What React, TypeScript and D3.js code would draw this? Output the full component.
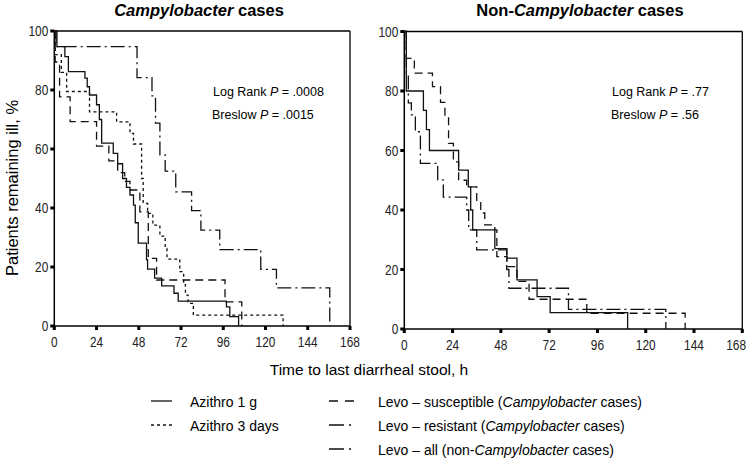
import React from "react";
import * as d3 from "d3";

// ---------- data (hours, % remaining ill); each point = level from that hour on ----------
const xTicks = [0, 24, 48, 72, 96, 120, 144, 168];
const yTicks = [0, 20, 40, 60, 80, 100];

// Campylobacter cases
const campyAzithro1g: [number, number][] = [
  [0, 100], [1.5, 94.7], [6, 91.3], [8, 86.2], [17.4, 84], [18.7, 81.1], [20, 78.3], [24, 75],
  [25.6, 70], [26.9, 62], [33.5, 58.5], [36, 55], [38.8, 50], [41, 47], [43, 44.4], [45, 41],
  [46, 35], [47.7, 28.1], [52.4, 22.4], [53, 19.3], [57, 16.2], [61, 13.6], [68, 11.1],
  [70.4, 8.4], [97.8, 6.5], [99.7, 3.2], [104.7, 0],
];
const campyAzithro3d: [number, number][] = [
  [0, 100], [0.5, 92], [4, 86], [7, 79.5], [20, 72.6], [35.4, 69.2], [43, 65.3], [45, 61.7],
  [49.6, 50], [50.5, 41.6], [53, 38.2], [56, 34.2], [60, 30.5], [63, 26.3], [64, 22.7],
  [71.3, 18.4], [73.5, 14], [74.5, 10.5], [76, 7.7], [79, 3.7], [130, 0],
];
const campyLevoSusceptible: [number, number][] = [
  [0, 100], [0.5, 89.5], [3, 77.7], [9, 69.3], [24, 61], [31, 56], [36, 52], [40, 49],
  [43, 46.1], [48.6, 38.7], [53.4, 22.9], [58.1, 15.6], [97, 8.2], [106.5, 0],
];
const campyLevoResistant: [number, number][] = [
  [0, 100], [1, 94.7], [47, 84.2], [55.5, 78], [57.5, 68.8], [60, 58], [63, 52.5], [69, 45.5],
  [78, 39.1], [83.3, 32.5], [94, 25.9], [117.3, 19.2], [126.2, 12.9], [156.5, 0],
];

// Non-Campylobacter cases
const nonAzithro1g: [number, number][] = [
  [0, 100], [1, 80], [9.5, 73.5], [11, 67], [12.5, 60], [27, 53.4], [31.8, 47.8], [33, 40],
  [34, 33.3], [45, 27], [51, 23.8], [56, 16.5], [66, 10.9], [72.5, 5.5], [111, 0],
];
const nonAzithro3d: [number, number][] = [
  [0, 100], [1, 91], [5, 86], [14, 81.5], [18, 76.2], [20.2, 71.9], [22, 62.4], [24.4, 56.2],
  [27, 50], [31, 47.8], [36, 42.5], [38, 39], [40, 35], [45, 33.3], [46, 24.3], [51, 21],
  [56, 16], [62, 10], [90.7, 5.3], [139.6, 0],
];
const nonLevoAll: [number, number][] = [
  [0, 100], [1, 86], [2, 76], [3.5, 72], [5.5, 66.3], [8, 55.7], [16.6, 50.1], [19.4, 44.3],
  [31, 40], [32, 33.3], [36, 26.6], [50.9, 20], [52, 13.7], [81.6, 6.6], [130, 0],
];

const DASH_SOLID = "";
const DASH_SHORT = "3,3";
const DASH_LONG = "8,5";
const DASH_DOT = "14,4,2,4";

const FONT = "'Liberation Sans', Arial, sans-serif";
const DIGIT_W = 6.6;

type Series = { data: [number, number][]; dash: string };

function Panel({ x0, x1, y0, y1, series, title, titleX, stat1, stat2, statX }: {
  x0: number; x1: number; y0: number; y1: number; series: Series[];
  title: React.ReactNode; titleX: number; stat1: string; stat2: string; statX: number;
}) {
  const x = d3.scaleLinear().domain([0, 168]).range([x0, x1]);
  const y = d3.scaleLinear().domain([0, 100]).range([y0, y1]);
  const line = d3.line<[number, number]>().x((d) => x(d[0])).y((d) => y(d[1])).curve(d3.curveStepAfter);
  return (
    <g>
      <text x={titleX} y={16} textAnchor="middle" fontFamily={FONT} fontSize={16.5} fontWeight="bold">{title}</text>
      {/* frame */}
      <line x1={x0} x2={x1} y1={y1} y2={y1} stroke="#000" strokeWidth={1.3} />
      <line x1={x1} x2={x1} y1={y1} y2={y0} stroke="#000" strokeWidth={1.3} />
      <line x1={x0} x2={x0} y1={y1} y2={y0} stroke="#000" strokeWidth={1.5} />
      <line x1={x0} x2={x1} y1={y0} y2={y0} stroke="#000" strokeWidth={1.5} />
      {yTicks.map((t) => {
        const s = String(t);
        return (
          <g key={"y" + t}>
            <rect x={x0 - 4} y={y(t) - 1.5} width={4} height={3} fill="#000" />
            <text x={x0 - 6} y={y(t) + 5} textAnchor="end" fontFamily={FONT} fontSize={14} fill="#222"
              textLength={s.length * DIGIT_W} lengthAdjust="spacingAndGlyphs">{s}</text>
          </g>
        );
      })}
      {xTicks.map((t) => {
        const s = String(t);
        const w = s.length * DIGIT_W;
        const cx = Math.min(x(t), 746 - w / 2);
        return (
          <g key={"x" + t}>
            <rect x={x(t) - 1.5} y={y0} width={3} height={4} fill="#000" />
            <text x={cx - w / 2} y={y0 + 21} fontFamily={FONT} fontSize={14} fill="#222"
              textLength={w} lengthAdjust="spacingAndGlyphs">{s}</text>
          </g>
        );
      })}
      {series.map((s, i) => (
        <path key={i} d={line(s.data) || ""} fill="none" stroke="#111" strokeWidth={1.3}
          strokeDasharray={s.dash || undefined} />
      ))}
      <text x={statX} y={96} fontFamily={FONT} fontSize={12.5}>
        {stat1.split("P")[0]}<tspan fontStyle="italic">P</tspan>{stat1.split("P")[1]}
      </text>
      <text x={statX - 1} y={119} fontFamily={FONT} fontSize={12.5}>
        {stat2.split("P")[0]}<tspan fontStyle="italic">P</tspan>{stat2.split("P")[1]}
      </text>
    </g>
  );
}

function LegendLine({ x1, x2, y, dash }: { x1: number; x2: number; y: number; dash: string }) {
  return <line x1={x1} x2={x2} y1={y} y2={y} stroke="#111" strokeWidth={1.3} strokeDasharray={dash || undefined} />;
}

export default function App() {
  return (
    <svg width={750} height={461} style={{ display: "block", position: "absolute", left: 0, top: 0, background: "#fff" }}>
      <rect width={750} height={461} fill="#fff" />
      <Panel x0={54.3} x1={350} y0={326} y1={31} statX={213} titleX={199}
        title={<><tspan fontStyle="italic">Campylobacter</tspan> cases</>}
        stat1="Log Rank P = .0008" stat2="Breslow P = .0015"
        series={[
          { data: campyAzithro1g, dash: DASH_SOLID },
          { data: campyAzithro3d, dash: DASH_SHORT },
          { data: campyLevoSusceptible, dash: DASH_LONG },
          { data: campyLevoResistant, dash: DASH_DOT },
        ]} />
      <Panel x0={404.3} x1={742.3} y0={329} y1={31.5} statX={612} titleX={580}
        title={<>Non-<tspan fontStyle="italic">Campylobacter</tspan> cases</>}
        stat1="Log Rank P = .77" stat2="Breslow P = .56"
        series={[
          { data: nonAzithro1g, dash: DASH_SOLID },
          { data: nonAzithro3d, dash: DASH_LONG },
          { data: nonLevoAll, dash: DASH_DOT },
        ]} />
      <text transform="translate(18,188) rotate(-90)" textAnchor="middle" fontFamily={FONT} fontSize={16.5}>Patients remaining ill, %</text>
      <text x={369} y={375} textAnchor="middle" fontFamily={FONT} fontSize={15.5}>Time to last diarrheal stool, h</text>
      {/* legend */}
      <LegendLine x1={151} x2={172} y={401} dash={DASH_SOLID} />
      <text x={190} y={407} fontFamily={FONT} fontSize={14}>Azithro 1 g</text>
      <LegendLine x1={151} x2={172} y={425} dash={DASH_SHORT} />
      <text x={190} y={431} fontFamily={FONT} fontSize={14}>Azithro 3 days</text>
      <LegendLine x1={329} x2={354} y={401} dash={"9,7"} />
      <text x={378} y={407} fontFamily={FONT} fontSize={14}>Levo – susceptible (<tspan fontStyle="italic">Campylobacter</tspan> cases)</text>
      <LegendLine x1={329} x2={354} y={425} dash={"15,5,2,20"} />
      <text x={378} y={431} fontFamily={FONT} fontSize={14}>Levo – resistant (<tspan fontStyle="italic">Campylobacter</tspan> cases)</text>
      <LegendLine x1={329} x2={354} y={449} dash={"15,5,2,20"} />
      <text x={378} y={455} fontFamily={FONT} fontSize={14}>Levo – all (non-<tspan fontStyle="italic">Campylobacter</tspan> cases)</text>
    </svg>
  );
}
